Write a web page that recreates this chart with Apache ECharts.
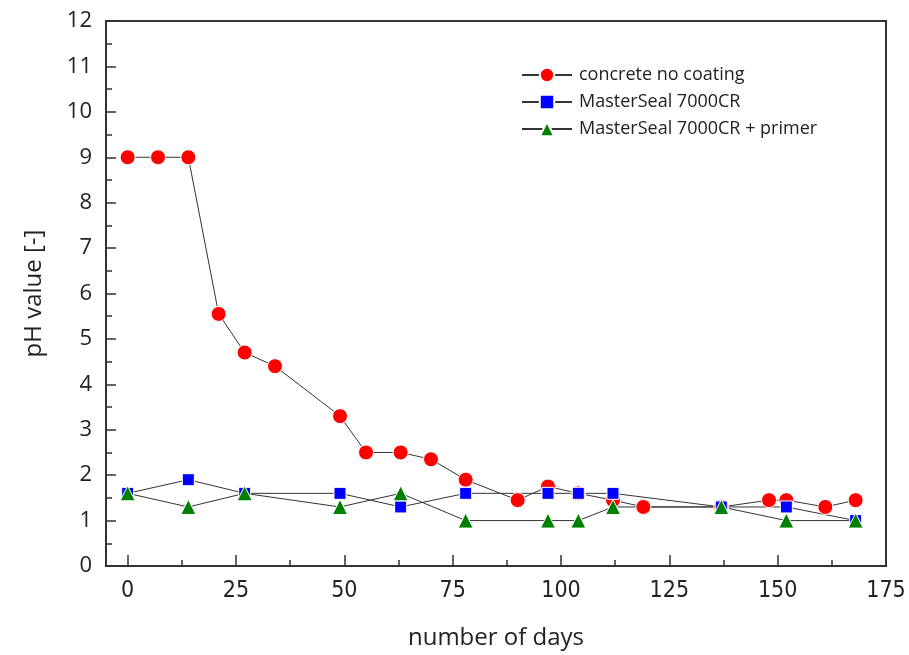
<!DOCTYPE html>
<html>
<head>
<meta charset="utf-8">
<script src="https://cdn.jsdelivr.net/npm/echarts@6/dist/echarts.min.js"></script>
<style>
  html, body { margin: 0; padding: 0; background: #fff; }
  #main { width: 909px; height: 655px; }
</style>
</head>
<body>
<div id="main"></div>
<script>
// 数据
var seriesNames = ['concrete no coating', 'MasterSeal 7000CR', 'MasterSeal 7000CR + primer'];

var daysConcrete = [0, 7, 14, 21, 27, 34, 49, 55, 63, 70, 78, 90, 97, 104, 112, 119, 137, 148, 152, 161, 168];
var phConcrete   = [9, 9, 9, 5.55, 4.7, 4.4, 3.3, 2.5, 2.5, 2.35, 1.9, 1.45, 1.75, 1.6, 1.45, 1.3, 1.3, 1.45, 1.45, 1.3, 1.45];

var daysSeal = [0, 14, 27, 49, 63, 78, 97, 104, 112, 137, 152, 168];
var phSeal   = [1.6, 1.9, 1.6, 1.6, 1.3, 1.6, 1.6, 1.6, 1.6, 1.3, 1.3, 1.0];

var daysPrimer = [0, 14, 27, 49, 63, 78, 97, 104, 112, 137, 152, 168];
var phPrimer   = [1.6, 1.3, 1.6, 1.3, 1.6, 1.0, 1.0, 1.0, 1.3, 1.3, 1.0, 1.0];

var xMajorTicks = [0, 25, 50, 75, 100, 125, 150, 175];
var xMinorTicks = [12.5, 37.5, 62.5, 87.5, 112.5, 137.5, 162.5];

function pairs(xs, ys) {
  var out = [];
  for (var i = 0; i < xs.length; i++) {
    out.push([xs[i], ys[i]]);
  }
  return out;
}

var chart = echarts.init(document.getElementById('main'));

var textFont = '"Open Sans", "Noto Sans", sans-serif';
var narrowFont = '"Liberation Sans Narrow", "DejaVu Sans Condensed", "Open Sans", sans-serif';

var option = {
  animation: false,
  backgroundColor: '#fff',
  grid: {
    left: 106, right: 23, top: 21, bottom: 89,
    show: true, borderColor: '#333', borderWidth: 2
  },
  legend: {
    orient: 'vertical',
    left: 521, top: 66,
    padding: 0,
    itemWidth: 50, itemHeight: 18, itemGap: 9,
    textStyle: { fontFamily: textFont, fontSize: 18, color: '#222', padding: [0, 0, 0, 2] },
    data: seriesNames
  },
  xAxis: [{
    type: 'value',
    min: -5, max: 175,
    name: 'number of days',
    nameLocation: 'middle',
    nameGap: 60,
    nameTextStyle: { fontFamily: textFont, fontSize: 24, color: '#222' },
    axisLine: { show: true, onZero: false, lineStyle: { color: '#333', width: 2 } },
    axisTick: { show: true, inside: true, length: 11, lineStyle: { color: '#333', width: 1.5 }, customValues: xMajorTicks },
    axisLabel: { margin: 14, fontFamily: narrowFont, fontSize: 23, color: '#222', customValues: xMajorTicks },
    splitLine: { show: false }
  }, {
    type: 'value',
    min: -5, max: 175,
    position: 'bottom',
    axisLine: { show: false, onZero: false },
    axisTick: { show: true, inside: true, length: 6, lineStyle: { color: '#333', width: 1.5 }, customValues: xMinorTicks },
    axisLabel: { show: false },
    splitLine: { show: false }
  }],
  yAxis: {
    type: 'value',
    min: 0, max: 12, interval: 1,
    name: 'pH value [-]',
    nameLocation: 'middle',
    nameGap: 60,
    nameTextStyle: { fontFamily: textFont, fontSize: 24, color: '#222' },
    axisLine: { show: true, onZero: false, lineStyle: { color: '#333', width: 2 } },
    axisTick: { show: true, inside: true, length: 10, lineStyle: { color: '#333', width: 1.5 } },
    minorTick: { show: true, splitNumber: 2, length: 6, lineStyle: { color: '#333', width: 1.5 } },
    axisLabel: { margin: 14, fontFamily: textFont, fontSize: 22, color: '#222' },
    splitLine: { show: false }
  },
  series: [{
    name: seriesNames[0],
    type: 'line',
    data: pairs(daysConcrete, phConcrete),
    symbol: 'circle',
    symbolSize: 15,
    lineStyle: { color: '#333', width: 1 },
    itemStyle: { color: '#ff0000', borderColor: '#fff', borderWidth: 1 }
  }, {
    name: seriesNames[1],
    type: 'line',
    data: pairs(daysSeal, phSeal),
    symbol: 'rect',
    symbolSize: 12,
    lineStyle: { color: '#333', width: 1 },
    itemStyle: { color: '#0000ff', borderColor: '#fff', borderWidth: 1 }
  }, {
    name: seriesNames[2],
    type: 'line',
    data: pairs(daysPrimer, phPrimer),
    symbol: 'triangle',
    symbolSize: 15,
    lineStyle: { color: '#333', width: 1 },
    itemStyle: { color: '#008000', borderColor: '#fff', borderWidth: 1 }
  }]
};

chart.setOption(option);
</script>
</body>
</html>
